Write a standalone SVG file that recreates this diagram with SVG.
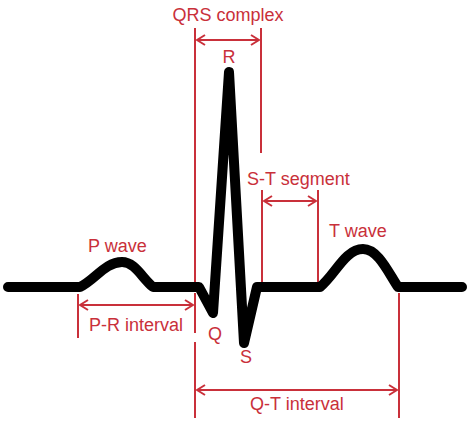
<svg xmlns="http://www.w3.org/2000/svg" width="474" height="428" viewBox="0 0 474 428">
<style>
.wave{fill:none;stroke:#000;stroke-width:10;stroke-linecap:round;stroke-linejoin:round}
.rl{stroke:#c9303a;stroke-width:2;fill:none}
.ar{stroke:#c9303a;stroke-width:2;fill:none;marker-start:url(#ah);marker-end:url(#ah)}
text{font-family:"Liberation Sans",Arial,sans-serif;font-size:18px;fill:#c9303a}
</style>
<defs>
<marker id="ah" viewBox="0 0 10 12" refX="9" refY="6" markerWidth="10" markerHeight="12" markerUnits="userSpaceOnUse" orient="auto-start-reverse">
<polyline points="1,1 9,6 1,11" fill="none" stroke="#c9303a" stroke-width="2"/>
</marker>
</defs>
<rect width="474" height="428" fill="#fff"/>
<g id="connectors">
<line class="rl" x1="195" y1="28" x2="195" y2="282"/>
<line class="rl" x1="261" y1="28" x2="261" y2="153"/>
<line class="ar" x1="197" y1="40" x2="259" y2="40"/>
<line class="rl" x1="262" y1="190" x2="262" y2="282"/>
<line class="rl" x1="318" y1="190" x2="318" y2="282"/>
<line class="ar" x1="264" y1="201" x2="316" y2="201"/>
<line class="rl" x1="78" y1="294" x2="78" y2="338"/>
<line class="rl" x1="195" y1="293" x2="195" y2="333"/>
<line class="ar" x1="80" y1="305" x2="193" y2="305"/>
<line class="rl" x1="195" y1="342" x2="195" y2="418"/>
<line class="rl" x1="399" y1="293" x2="399" y2="418"/>
<line class="ar" x1="197" y1="390" x2="397" y2="390"/>
</g>
<g id="ecg">
<path class="wave" d="M8,287 L80,287 C95,280 105,262 122,262 C135,262 142,278 153,287 L199,287 L213,313 L229,72 L244,343 L257,287 L320,287 C335,275 345,249 363,249 C378,249 388,272 398,287 L462,287"/>
</g>
<g id="labels">
<text x="228" y="21" text-anchor="middle">QRS complex</text>
<text x="229" y="63" text-anchor="middle">R</text>
<text x="247" y="185">S-T segment</text>
<text x="329" y="237">T wave</text>
<text x="88" y="252">P wave</text>
<text x="89" y="331">P-R interval</text>
<text x="215" y="340" text-anchor="middle">Q</text>
<text x="246" y="363" text-anchor="middle">S</text>
<text x="250" y="410">Q-T interval</text>
</g>
</svg>
